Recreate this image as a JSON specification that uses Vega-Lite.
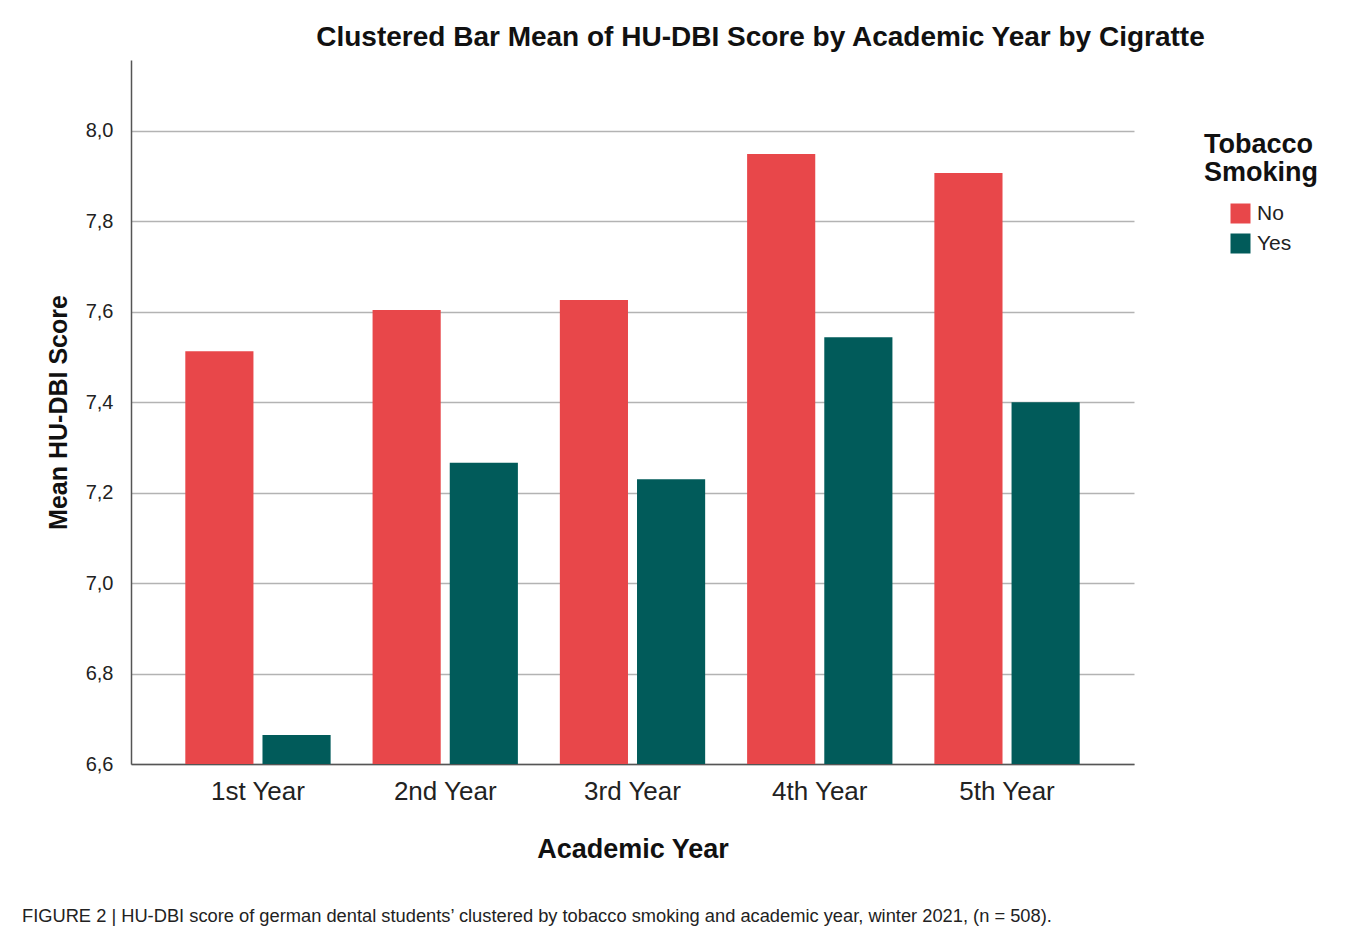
{
  "$schema": "https://vega.github.io/schema/vega-lite/v6.json",
  "background": "white",
  "padding": {"left": 22, "top": 24, "right": 5, "bottom": 5},
  "title": {
    "text": "FIGURE 2 | HU-DBI score of german dental students’ clustered by tobacco smoking and academic year, winter 2021, (n = 508).",
    "orient": "bottom",
    "anchor": "start",
    "frame": "group",
    "dx": -109,
    "offset": 46,
    "font": "Liberation Sans",
    "fontSize": 18.3,
    "fontWeight": "normal",
    "color": "#222222"
  },
  "config": {
    "font": "Liberation Sans",
    "view": {"stroke": null}
  },
  "vconcat": [
    {
      "width": 1003,
      "height": 704,
      "title": {
        "text": "Clustered Bar Mean of HU-DBI Score by Academic Year by Cigratte",
        "anchor": "middle",
        "frame": "group",
        "dx": 128,
        "offset": 8,
        "fontSize": 28,
        "fontWeight": "bold",
        "color": "#111111"
      },
      "data": {
        "values": [
          {"year": "1st Year", "smoking": "No", "score": 7.513},
          {"year": "1st Year", "smoking": "Yes", "score": 6.664},
          {"year": "2nd Year", "smoking": "No", "score": 7.604},
          {"year": "2nd Year", "smoking": "Yes", "score": 7.266},
          {"year": "3rd Year", "smoking": "No", "score": 7.626},
          {"year": "3rd Year", "smoking": "Yes", "score": 7.230},
          {"year": "4th Year", "smoking": "No", "score": 7.949},
          {"year": "4th Year", "smoking": "Yes", "score": 7.544},
          {"year": "5th Year", "smoking": "No", "score": 7.907},
          {"year": "5th Year", "smoking": "Yes", "score": 7.400}
        ]
      },
      "layer": [
        {
          "mark": {"type": "bar"},
          "encoding": {
            "x": {
              "field": "year",
              "type": "nominal",
              "sort": ["1st Year", "2nd Year", "3rd Year", "4th Year", "5th Year"],
              "scale": {"paddingInner": 0.224, "paddingOuter": 0.29},
              "axis": {
                "title": "Academic Year",
                "labelAngle": 0,
                "labelFontSize": 26,
                "labelColor": "#222222",
                "labelPadding": 14,
                "ticks": false,
                "domainColor": "#555555",
                "domainWidth": 1.5,
                "titleFontSize": 27,
                "titleFontWeight": "bold",
                "titleColor": "#111111",
                "titlePadding": 32,
                "grid": false
              }
            },
            "xOffset": {
              "field": "smoking",
              "type": "nominal",
              "sort": ["No", "Yes"],
              "scale": {"paddingInner": 0.117, "paddingOuter": 0}
            },
            "y": {
              "field": "score",
              "type": "quantitative",
              "scale": {"domain": [6.6, 8.157], "nice": false, "zero": false},
              "axis": {
                "title": "Mean HU-DBI Score",
                "values": [6.6, 6.8, 7.0, 7.2, 7.4, 7.6, 7.8, 8.0],
                "labelExpr": "replace(format(datum.value, '.1f'), '.', ',')",
                "labelFontSize": 20,
                "labelColor": "#222222",
                "labelPadding": 18,
                "ticks": false,
                "domainColor": "#555555",
                "domainWidth": 1.5,
                "grid": true,
                "gridColor": "#b3b3b3",
                "gridWidth": 1.5,
                "titleFontSize": 25,
                "titleFontWeight": "bold",
                "titleColor": "#111111",
                "titlePadding": 14
              }
            },
            "y2": {"datum": 6.6},
            "color": {
              "field": "smoking",
              "type": "nominal",
              "sort": ["No", "Yes"],
              "scale": {"domain": ["No", "Yes"], "range": ["#E8474A", "#015B5A"]},
              "legend": {
                "title": ["Tobacco", "Smoking"],
                "orient": "none",
                "legendX": 1073,
                "legendY": 72,
                "titleFontSize": 27,
                "titleLineHeight": 28,
                "titleFontWeight": "bold",
                "titleColor": "#111111",
                "titlePadding": 16,
                "symbolType": "square",
                "symbolSize": 400,
                "symbolStrokeWidth": 0,
                "symbolOffset": 26,
                "labelFontSize": 21,
                "labelColor": "#222222",
                "labelOffset": 6,
                "rowPadding": 8
              }
            }
          }
        }
      ]
    }
  ]
}
